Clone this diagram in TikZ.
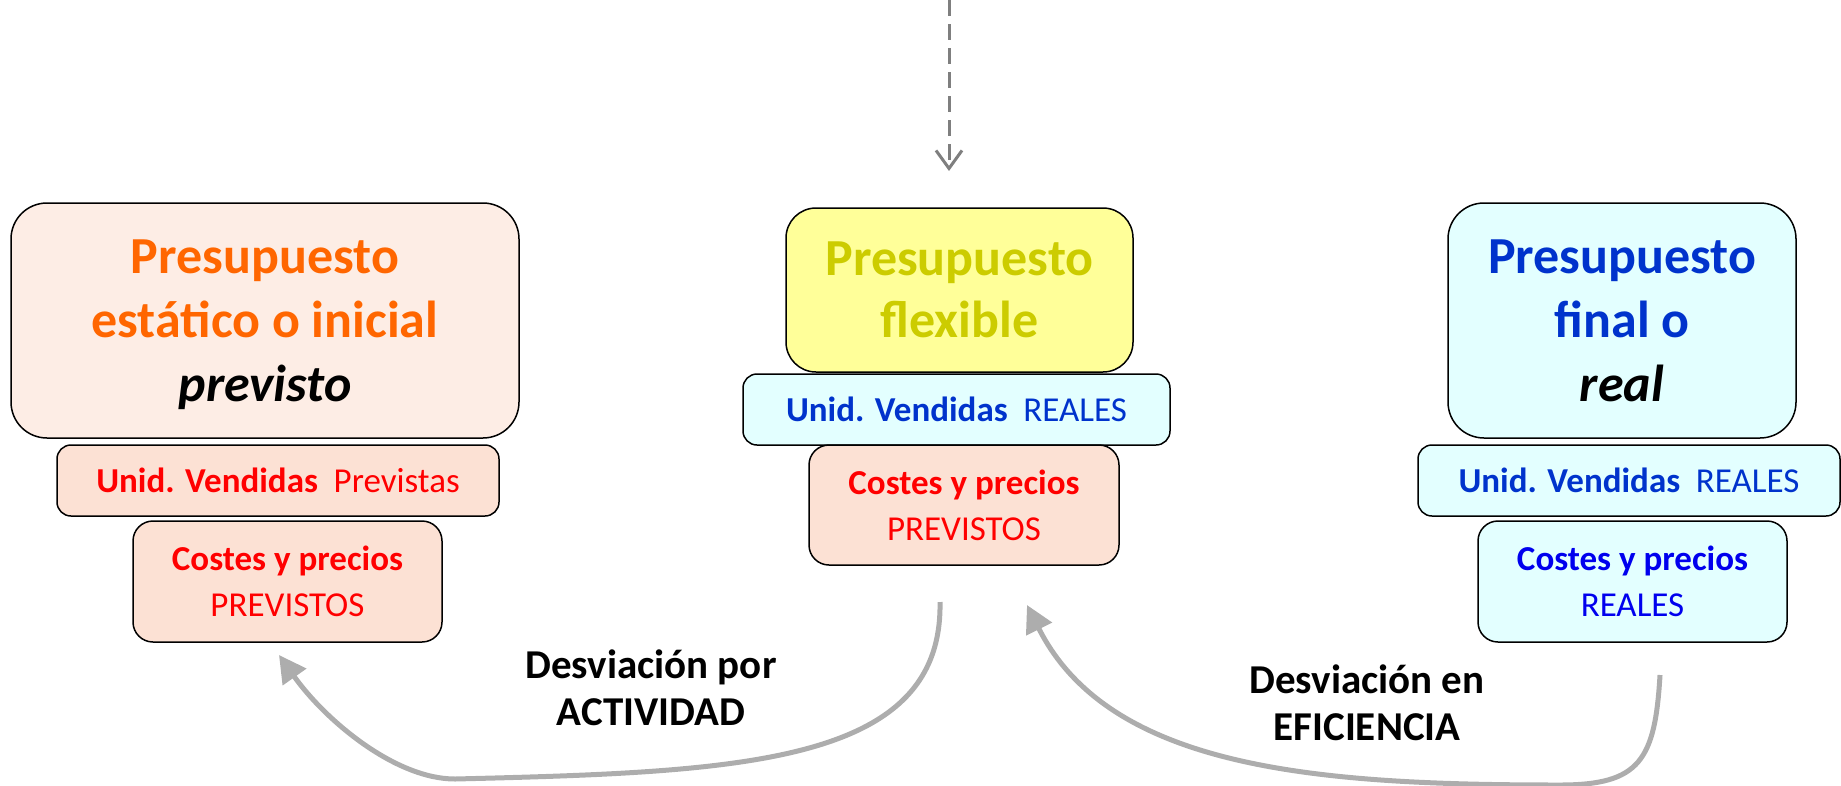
\documentclass[tikz,border=0pt]{standalone}
\usepackage{fontspec}
\setmainfont{Carlito}
\usetikzlibrary{arrows.meta}

\definecolor{naranja}{HTML}{FF6600}
\definecolor{fondoest}{HTML}{FDEDE5}
\definecolor{fondoprev}{HTML}{FCE1D4}
\definecolor{amarillo}{HTML}{FFFF99}
\definecolor{oliva}{HTML}{CCCC00}
\definecolor{cian}{HTML}{E3FFFF}
\definecolor{azul}{HTML}{0033CC}
\definecolor{azulpuro}{HTML}{0000EE}
\definecolor{gris}{HTML}{ADADAD}
\definecolor{grisosc}{HTML}{7F7F7F}

\tikzset{
  caja/.style={draw=black, line width=1.5pt, align=center, inner sep=0pt},
  titulo/.style={caja, rounded corners=36pt, font=\fontsize{52}{64}\selectfont\bfseries},
  dato/.style={caja, rounded corners=14pt, font=\fontsize{35}{46}\selectfont},
  desvio/.style={-{Triangle[length=27pt,width=28pt]}, gris, line width=5pt},
  etiqueta/.style={align=center, inner sep=0pt, font=\fontsize{41}{47}\selectfont\bfseries}
}

\begin{document}
\begin{tikzpicture}[x=1pt, y=-1pt]
    \useasboundingbox (0,0) rectangle (1841,785);
    \node[titulo, fill=fondoest, text=naranja, text depth=0pt, minimum width=508pt, minimum height=235pt] (estatico) at (265,320.5)
        {Presupuesto\\estático o inicial\\{\color{black}\itshape previsto}};
    \node[dato, fill=fondoprev, text=red, minimum width=442pt, minimum height=71pt] (unidprev) at (278,480.5)
        {\textbf{Unid. Vendidas}\ \ Previstas};
    \node[dato, rounded corners=20pt, fill=fondoprev, text=red, minimum width=309pt, minimum height=121pt] (costprev) at (287.5,581.5)
        {\textbf{Costes y precios}\\PREVISTOS};

    \node[titulo, rounded corners=30pt, fill=amarillo, text=oliva, font=\fontsize{52}{62}\selectfont\bfseries, minimum width=347pt, minimum height=164pt] (flexible) at (959.5,290)
        {Presupuesto\\flexible};
    \node[dato, fill=cian, text=azul, minimum width=427pt, minimum height=71pt] (unidflex) at (956.5,409.5)
        {\textbf{Unid. Vendidas}\ \ REALES};
    \node[dato, rounded corners=20pt, fill=fondoprev, text=red, minimum width=310pt, minimum height=120pt] (costflex) at (964,505)
        {\textbf{Costes y precios}\\PREVISTOS};

    \node[titulo, fill=cian, text=azul, minimum width=348pt, minimum height=235pt] (final) at (1622,320.5)
        {Presupuesto\\final o\\{\color{black}\itshape real}};
    \node[dato, fill=cian, text=azul, minimum width=422pt, minimum height=71pt] (unidreal) at (1629,480.5)
        {\textbf{Unid. Vendidas}\ \ REALES};
    \node[dato, rounded corners=20pt, fill=cian, text=azulpuro, minimum width=309pt, minimum height=121pt] (costreal) at (1632.5,581.5)
        {\textbf{Costes y precios}\\REALES};

    \coordinate (arriba) at (949,0);
    \coordinate (entrada) at (949,171);
    \draw[-{Straight Barb[length=18pt,width=26pt]}, grisosc, line width=3pt, dash pattern=on 16pt off 8pt] (arriba) -- (entrada);

    \coordinate (salidaA) at (940,602);
    \coordinate (puntaA) at (279,655);
    \draw[desvio] (salidaA) .. controls (943,765) and (740,772) .. (455,779)
        .. controls (395,779) and (325,720) .. (puntaA);
    \coordinate (salidaE) at (1660,675);
    \coordinate (puntaE) at (1027,605);
    \draw[desvio] (salidaE) .. controls (1655,760) and (1640,785) .. (1560,785)
        .. controls (1320,785) and (1110,770) .. (puntaE);

    \node[etiqueta] (actividad) at (651,688) {Desviación por\\ACTIVIDAD};
    \node[etiqueta] (eficiencia) at (1367,703) {Desviación en\\EFICIENCIA};
\end{tikzpicture}
\end{document}
